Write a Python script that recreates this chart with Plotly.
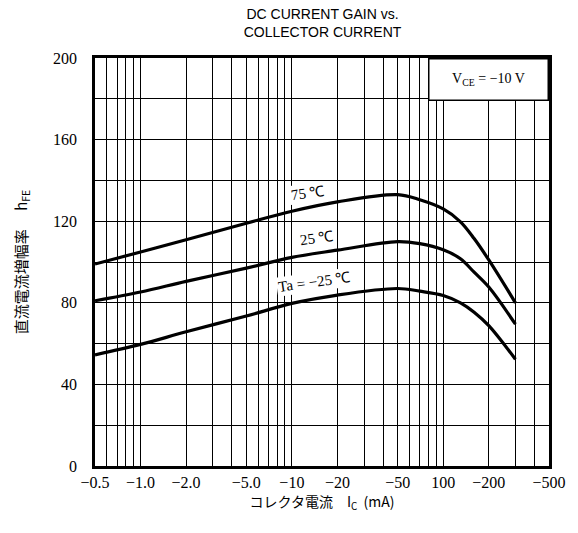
import math
import plotly.graph_objects as go

# Collector current (mA, magnitude) and hFE per ambient temperature
ic = [0.5, 1, 2, 5, 10, 20, 50, 70, 100, 130, 160, 200, 300]
hfe_75 = [99, 104.9, 110.9, 119, 124.9, 129.5, 133, 130.5, 126, 119.7, 111.5, 101, 80]
hfe_25 = [81, 85.3, 90.5, 97, 102.3, 105.8, 110, 109, 106, 101.6, 95, 87.7, 69.5]
hfe_m25 = [54.5, 59.6, 65.8, 73.5, 79.7, 83.8, 87, 85.7, 83.6, 80, 75.4, 68.8, 52.3]

# grid / tick values
grid_vals = [0.5, 0.6, 0.7, 0.8, 0.9,
             1, 2, 3, 4, 5, 6, 7, 8, 9,
             10, 20, 30, 40, 50, 60, 70, 80, 90,
             100, 200, 300, 400, 500]
label_map = {0.5: "−0.5", 1: "−1.0", 2: "−2.0", 5: "−5.0", 10: "−10",
             20: "−20", 50: "−50", 100: "100", 200: "−200", 500: "−500"}
y_ticks = [0, 40, 80, 120, 160, 200]
y_grid = list(range(0, 201, 20))

# curve labels: (text, Ic in mA, hFE)
curve_labels = [("75 ℃", 12.8, 133.8), ("25 ℃", 14.7, 111.8), ("Ta = −25 ℃", 14.0, 90.2)]

serif = "Liberation Serif"

fig = go.Figure()
for ys in (hfe_75, hfe_25, hfe_m25):
    fig.add_trace(go.Scatter(x=ic, y=ys, mode="lines",
                             line=dict(color="black", width=3.2, shape="spline", smoothing=1.0),
                             showlegend=False, hoverinfo="skip"))

for txt, xv, yv in curve_labels:
    fig.add_annotation(x=math.log10(xv), y=yv, xref="x", yref="y", text=txt, showarrow=False,
                       textangle=-8, bgcolor="white", borderpad=1,
                       font=dict(family=serif, size=15, color="black"))

fig.add_annotation(x=1, y=1, xref="paper", yref="paper", xanchor="right", yanchor="top",
                   text="V<sub>CE</sub> = −10 V", showarrow=False, width=116, height=38,
                   bgcolor="white", bordercolor="black", borderwidth=1.5,
                   font=dict(family=serif, size=14, color="black"))

fig.update_layout(
    width=578, height=533,
    margin=dict(l=95, r=27, t=58, b=67),
    paper_bgcolor="white", plot_bgcolor="white",
    title=dict(text="DC CURRENT GAIN vs.<br>COLLECTOR CURRENT", x=0.558, xanchor="center",
               xref="container", yref="container", y=0.965, yanchor="top",
               font=dict(family="Liberation Sans", size=14, color="black")),
    xaxis=dict(type="log", range=[-0.30103, 2.69897],
               tickmode="array", tickvals=grid_vals,
               ticktext=[label_map.get(v, "") for v in grid_vals],
               showgrid=True, gridcolor="black", gridwidth=1.3,
               showline=True, linecolor="black", linewidth=2.5, mirror=True,
               ticks="", tickfont=dict(family=serif, size=16, color="black"),
               title=dict(text="コレクタ電流　I<sub>C</sub>  (mA)", standoff=0,
                          font=dict(family="Noto Sans CJK JP", size=14, color="black")),
               zeroline=False),
    yaxis=dict(range=[0, 200], tickmode="array", tickvals=y_grid,
               ticktext=[str(v) if v in y_ticks else "" for v in y_grid],
               showgrid=True, gridcolor="black", gridwidth=1.3,
               showline=True, linecolor="black", linewidth=2.5, mirror=True,
               ticks="", ticklabelstandoff=12,
               tickfont=dict(family=serif, size=16, color="black"),
               title=dict(text="直流電流増幅率　 h<sub>FE</sub>", standoff=22,
                          font=dict(family="Noto Sans CJK JP", size=15, color="black")),
               zeroline=False),
)

fig.write_html("out.html")
